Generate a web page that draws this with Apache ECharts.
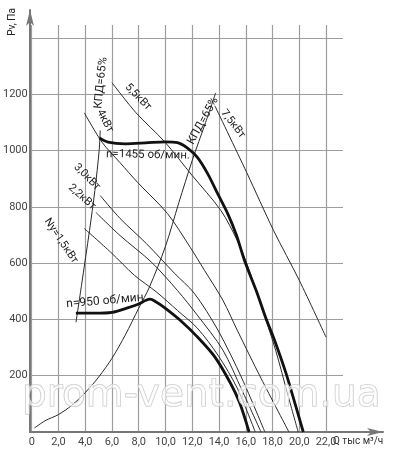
<!DOCTYPE html>
<html>
<head>
<meta charset="utf-8">
<title>Характеристика вентилятора</title>
<script src="https://cdn.jsdelivr.net/npm/echarts@6.0.0/dist/echarts.min.js"></script>
<style>
  html, body { margin: 0; padding: 0; background: #fff; }
  #chart { width: 400px; height: 458px; }
</style>
</head>
<body>
<div id="chart"></div>
<script>
// подписи осей
var xTicks = [0, 2, 4, 6, 8, 10, 12, 14, 16, 18, 20, 22];
var yTicks = [200, 400, 600, 800, 1000, 1200];

// напорные характеристики [Q тыс м3/ч, Pv Па]
var n1455 = [[5.05,1045],[5.7,1030],[7,1024],[8.5,1027],[10,1031],[10.9,1028],[11.6,1010],[12.4,975],
  [13.15,918],[13.9,847],[14.65,776],[15.3,700],[15.9,610],[16.8,500],[17.5,405],[18.2,320],[19,210],[19.75,90],[20.3,0]];
var n950 = [[3.3,422],[4.7,422],[6,425],[7.1,440],[8,455],[8.5,467],[8.85,472],[9.3,462],[9.9,443],[11.1,397],
  [12.4,337],[13.7,266],[14.85,174],[15.55,103],[16.25,0]];

// КПД=65%
var kpdLeft = [[3.31,390],[3.72,521],[4.32,716],[4.72,858],[5.04,1000],[5.12,1071]];
var kpdRight = [[0.2,14],[1,40],[2,62],[3,95],[4,140],[5,195],[6,262],[7,345],[8,440],[8.8,515],[10,660],
  [11,815],[12,965],[13,1100],[13.75,1205]];

// мощность двигателя Ny
var ny15 = [[3.93,723],[5.92,638],[7.67,557],[9.36,496],[10.89,432],[12.38,369],[13.92,273],[15.36,156],[16.71,0]];
var ny22 = [[4.8,780],[6.6,698],[8.96,603],[10.89,503],[12.38,415],[14.29,291],[15.71,149],[17.14,0]];
var ny30 = [[5.12,840],[6.6,759],[8.56,670],[10.67,564],[12.15,493],[13.92,362],[15.71,191],[17.43,0]];
var ny40 = [[3.93,1134],[5.28,1028],[6.6,957],[7.93,886],[10.15,776],[11.85,656],[12.92,574],[14.29,468],
  [15.36,362],[17.14,191],[19.23,0]];
var ny55 = [[6,1241],[7.8,1134],[9.92,1032],[12,911],[14.14,787],[15.36,681],[16.07,599],[17.14,450],
  [18.23,291],[19.15,131],[19.92,0]];
var ny75 = [[13.69,1159],[16.07,922],[18.08,716],[20,539],[22,337]];

var FONT = "Roboto, 'Liberation Sans', sans-serif";

function curve(data, width) {
  return {
    type: 'line',
    data: data,
    showSymbol: false,
    smooth: 0.3,
    silent: true,
    lineStyle: { color: width > 1 ? '#111' : '#2a2a2a', width: width }
  };
}

function label(text, x, y, deg, size) {
  return {
    type: 'text',
    x: x,
    y: y,
    rotation: deg * Math.PI / 180,
    z: 50,
    style: {
      text: text,
      font: (size || 11) + 'px ' + FONT,
      fill: '#222',
      align: 'center',
      verticalAlign: 'middle'
    }
  };
}

var chart = echarts.init(document.getElementById('chart'));

var option = {
  animation: false,
  backgroundColor: '#fff',
  grid: [
    { left: 30, right: 57, top: 25, bottom: 26 },
    { left: 30, right: 17, top: 10, bottom: 26 }
  ],
  xAxis: [
    {
      type: 'value', gridIndex: 0, min: 0, max: 23.27, interval: 2,
      axisLine: { show: false },
      axisTick: { show: false },
      axisLabel: {
        margin: 5, color: '#444', fontSize: 11, fontFamily: FONT,
        formatter: function (v) {
          if (xTicks.indexOf(v) < 0) return '';
          return v === 0 ? '0' : v.toFixed(1).replace('.', ',');
        }
      },
      splitLine: { show: true, showMaxLine: false, lineStyle: { color: '#9d9d9d', width: 1.2 } }
    },
    {
      type: 'value', gridIndex: 1, min: 0, max: 1,
      axisLine: { show: true, onZero: false, symbol: ['none', 'arrow'], symbolSize: [6, 16],
        lineStyle: { color: '#777', width: 2 } },
      axisTick: { show: false }, axisLabel: { show: false }, splitLine: { show: false }
    }
  ],
  yAxis: [
    {
      type: 'value', gridIndex: 0, min: 0, max: 1446, interval: 200,
      axisLine: { show: false },
      axisTick: { show: false },
      axisLabel: {
        margin: 4, color: '#444', fontSize: 11, fontFamily: FONT,
        formatter: function (v) { return yTicks.indexOf(v) < 0 ? '' : String(v); }
      },
      splitLine: { show: true, showMaxLine: false, lineStyle: { color: '#9d9d9d', width: 1.2 } }
    },
    {
      type: 'value', gridIndex: 1, min: 0, max: 1,
      axisLine: { show: true, onZero: false, symbol: ['none', 'arrow'], symbolSize: [6, 16],
        lineStyle: { color: '#777', width: 2 } },
      axisTick: { show: false }, axisLabel: { show: false }, splitLine: { show: false }
    }
  ],
  series: [
    curve(kpdLeft, 1),
    curve(kpdRight, 1),
    curve(ny15, 1),
    curve(ny22, 1),
    curve(ny30, 1),
    curve(ny40, 1),
    curve(ny55, 1),
    curve(ny75, 1),
    curve(n950, 2.8),
    curve(n1455, 2.8)
  ],
  graphic: [
    label('Pv, Па', 12, 22, 90, 10),
    label('КПД=65%', 101, 83, 84, 11.5),
    label('4кВт', 105, 121, -63, 11),
    label('5,5кВт', 138, 97, -46, 11),
    label('n=1455 об/мин.', 148, 155, -1, 11.5),
    label('КПД=65%', 203, 121, 61, 11.5),
    label('7,5кВт', 233, 124, -52, 11),
    label('3,0кВт', 87, 177, -45, 11),
    label('2,2кВт', 82, 197, -42, 11),
    label('Ny=1,5кВт', 61, 241, -56, 11),
    label('n=950 об/мин', 105, 301, 5, 12),
    {
      type: 'text', x: 333, y: 441, z: 50,
      style: { text: 'Q тыс м³/ч', font: '10px ' + FONT, fill: '#333', align: 'left', verticalAlign: 'middle' }
    },
    {
      type: 'text', x: 22, y: 396, z: 60,
      style: {
        text: 'prom-vent.com.ua', font: "39px 'DejaVu Sans', sans-serif",
        fill: 'rgba(255,255,255,0.6)', stroke: '#c4c4c4', lineWidth: 1,
        align: 'left', verticalAlign: 'middle'
      }
    }
  ]
};

chart.setOption(option);
</script>
</body>
</html>
